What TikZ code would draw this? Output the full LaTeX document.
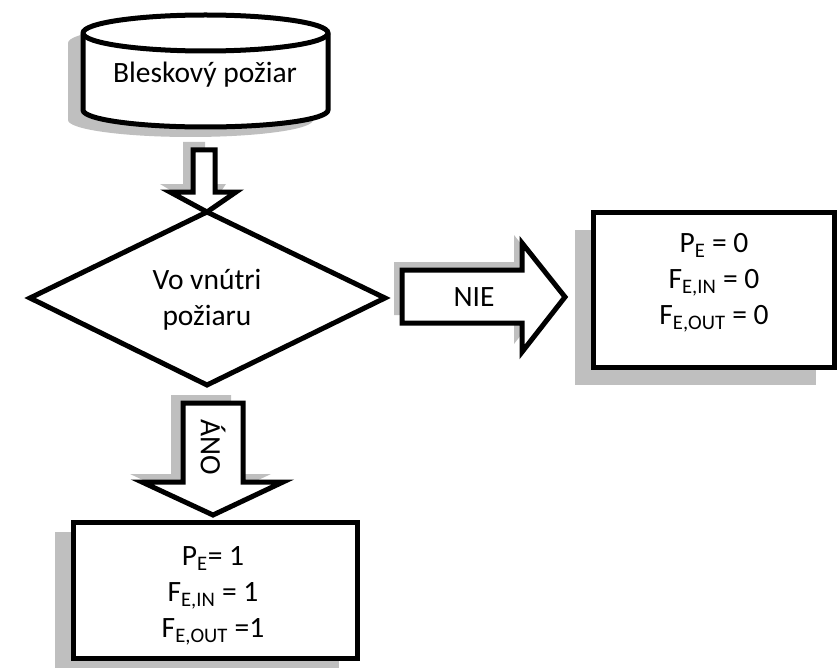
\documentclass[tikz,border=0pt]{standalone}
\usepackage{fontspec}
\setmainfont{Carlito}
\begin{document}
\begin{tikzpicture}[x=1pt,y=-1pt,
  outline/.style={draw=black, line width=5pt, fill=white, line join=miter},
  shadowfill/.style={fill=black!25, draw=none},
  lbl/.style={font=\fontsize{29.5}{36}\selectfont, align=center, text=black}]
\useasboundingbox (0,0) rectangle (837,671);

% ---- source cylinder ----
\def\cylpath{(83,33) -- (83,110) arc[start angle=180,end angle=0,x radius=122.5,y radius=17]
  -- (328,33) arc[start angle=360,end angle=180,x radius=122.5,y radius=18] -- cycle}
\fill[shadowfill, shift={(-15,10)}] \cylpath;
\draw[outline] \cylpath;
\draw[line width=5pt] (83,33) arc[start angle=180,end angle=0,x radius=122.5,y radius=18];
\node[lbl] (src) at (205,75) {Bleskový požiar};
\coordinate (srcb) at (205,127);

% ---- decision diamond ----
\coordinate (dt) at (207,212);
\coordinate (dr) at (385,298);
\coordinate (db) at (207,385);
\coordinate (dl) at (30,298);
\fill[shadowfill, shift={(-10,10)}] (dt) -- (dr) -- (db) -- (dl) -- cycle;
\draw[outline] (dt) -- (dr) -- (db) -- (dl) -- cycle;
\node[lbl] (dec) at (207,300) {Vo vnútri\\požiaru};

% ---- block arrow: source -> decision ----
\def\arrowA{(193,150) -- (215,150) -- (215,192) -- (236,192) -- (dt) -- (170,192) -- (193,192) -- cycle}
\fill[shadowfill, shift={(-10,-8)}] \arrowA;
\draw[outline] \arrowA;

% ---- result boxes ----
\fill[shadowfill] (575,230) rectangle (816,385);
\draw[outline] (593,212) rectangle (834,367);
\node[lbl] (no) at (714,283) {P\textsubscript{E} = 0\\F\textsubscript{E,IN} = 0\\F\textsubscript{E,OUT} = 0};
\coordinate (nol) at (593,297);

\fill[shadowfill] (55,532) rectangle (339,668);
\draw[outline] (73,522) rectangle (357,658);
\node[lbl] (yes) at (213,596) {P\textsubscript{E}= 1\\F\textsubscript{E,IN} = 1\\F\textsubscript{E,OUT} =1};
\coordinate (yest) at (213,522);

% ---- NIE arrow ----
\def\arrowN{(402,270) -- (522,270) -- (522,243) -- (565,297) -- (522,352) -- (522,323) -- (402,323) -- cycle}
\fill[shadowfill, shift={(-8,-8)}] \arrowN;
\draw[outline] \arrowN;
\node[lbl] (nie) at (474,297) {NIE};

% ---- ÁNO arrow ----
\def\arrowY{(183,403) -- (243,403) -- (243,482) -- (283,482) -- (213,515) -- (142,482) -- (183,482) -- cycle}
\fill[shadowfill, shift={(-12,-8)}] \arrowY;
\draw[outline] \arrowY;
\node[lbl, rotate=-90] (ano) at (213,447) {ÁNO};
\end{tikzpicture}
\end{document}
